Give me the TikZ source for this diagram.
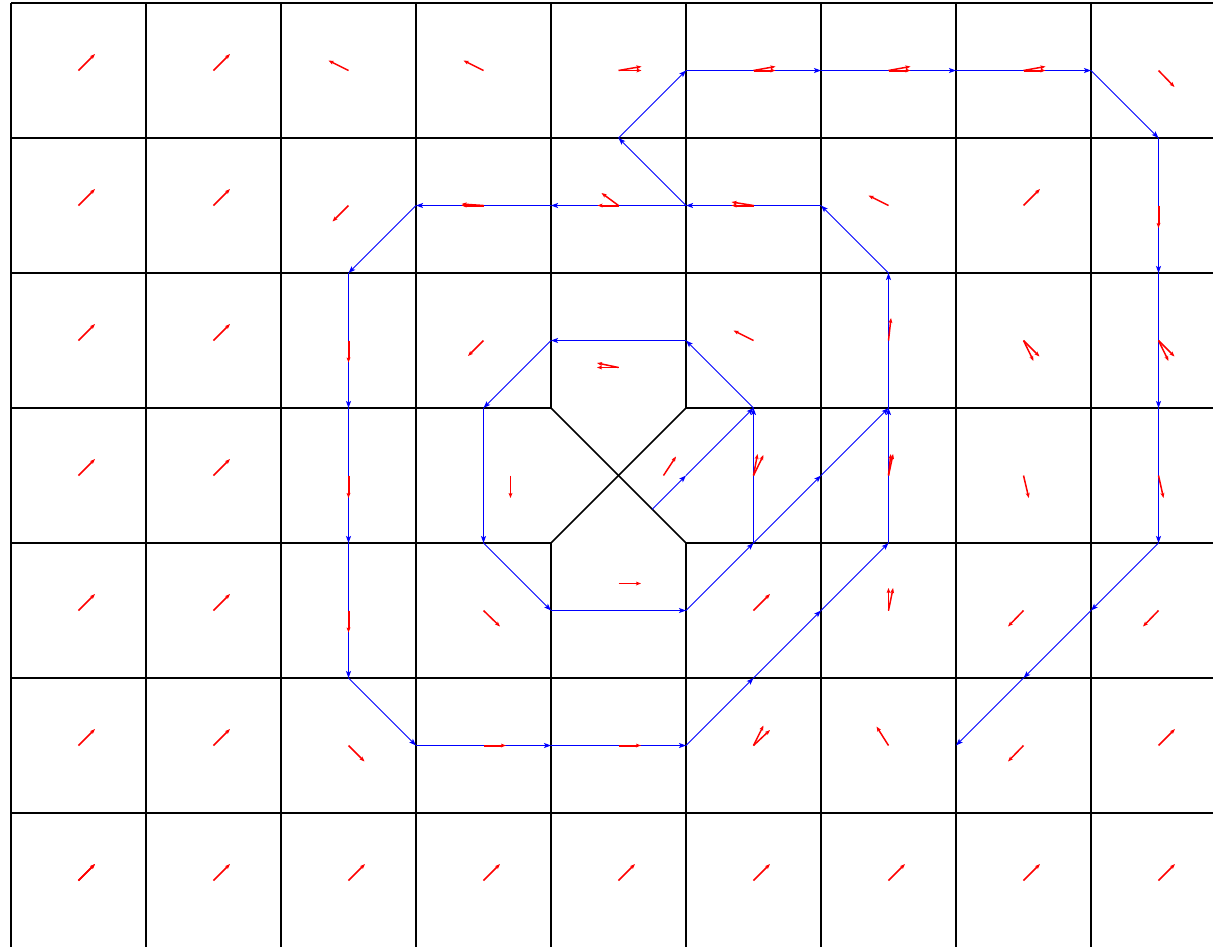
\documentclass[tikz,border=0pt]{standalone}
\usetikzlibrary{arrows.meta}
\begin{document}
\begin{tikzpicture}[x=1pt,y=-1pt,
  gridline/.style={black,line width=1.5pt},
  flow/.style={blue,line width=1pt,-{Stealth[length=7pt,width=5pt,inset=1.5pt]}},
  vec/.style={red,line width=1.5pt,-{Stealth[length=5pt,width=3.8pt,inset=1pt]}},
  onvec/.style={vec,line width=2pt}]
\useasboundingbox (0,0) rectangle (1213,946);
\clip (0,0) rectangle (1213,946);
% grid
\foreach \x in {11,146,281,416,821,956,1091} \draw[gridline] (\x,3) -- (\x,950);
\foreach \x in {551,686} {\draw[gridline] (\x,3) -- (\x,408); \draw[gridline] (\x,543) -- (\x,950);}
\foreach \y in {3,138,273,678,813} \draw[gridline] (11,\y) -- (1220,\y);
\foreach \y in {408,543} {\draw[gridline] (11,\y) -- (551,\y); \draw[gridline] (686,\y) -- (1220,\y);}
\draw[gridline] (551,408) -- (686,543);
\draw[gridline] (686,408) -- (551,543);
\draw[black,line width=2.2pt] (11,950) -- (11,813) -- (146,813) -- (146,950);
% trajectory vertices
\coordinate (S) at (652.25,509.25);
\coordinate (a1) at (686,475.5);
\coordinate (I1) at (753.5,408);
\coordinate (I2) at (686,340.5);
\coordinate (I3) at (551,340.5);
\coordinate (I4) at (483.5,408);
\coordinate (I5) at (483.5,543);
\coordinate (I6) at (551,610.5);
\coordinate (I7) at (686,610.5);
\coordinate (I8) at (753.5,543);
\coordinate (b1) at (821,475.5);
\coordinate (O0) at (888.5,543);
\coordinate (O1) at (888.5,408);
\coordinate (O2) at (888.5,273);
\coordinate (O3) at (821,205.5);
\coordinate (O4) at (686,205.5);
\coordinate (O5) at (551,205.5);
\coordinate (O6) at (416,205.5);
\coordinate (O7) at (348.5,273);
\coordinate (O8) at (348.5,408);
\coordinate (O9) at (348.5,543);
\coordinate (O10) at (348.5,678);
\coordinate (O11) at (416,745.5);
\coordinate (O12) at (551,745.5);
\coordinate (O13) at (686,745.5);
\coordinate (O14) at (753.5,678);
\coordinate (O15) at (821,610.5);
\coordinate (E1) at (618.5,138);
\coordinate (E2) at (686,70.5);
\coordinate (E3) at (821,70.5);
\coordinate (E4) at (956,70.5);
\coordinate (E5) at (1091,70.5);
\coordinate (E6) at (1158.5,138);
\coordinate (E7) at (1158.5,273);
\coordinate (E8) at (1158.5,408);
\coordinate (E9) at (1158.5,543);
\coordinate (E10) at (1091,610.5);
\coordinate (E11) at (1023.5,678);
\coordinate (E12) at (956,745.5);
% trajectory
\foreach \a/\b in {S/a1,a1/I1,I1/I2,I2/I3,I3/I4,I4/I5,I5/I6,I6/I7,I7/I8,I8/I1,I8/b1,b1/O1,
  O0/O1,O1/O2,O2/O3,O3/O4,O4/O5,O5/O6,O6/O7,O7/O8,O8/O9,O9/O10,O10/O11,O11/O12,O12/O13,O13/O14,O14/O15,O15/O0,
  O4/E1,E1/E2,E2/E3,E3/E4,E4/E5,E5/E6,E6/E7,E7/E8,E8/E9,E9/E10,E10/E11,E11/E12}
  \draw[flow] (\a) -- (\b);
% velocity vectors
\foreach \x/\y in {78.5/70.5,213.5/70.5,78.5/205.5,213.5/205.5,1023.5/205.5,
  78.5/340.5,213.5/340.5,78.5/475.5,213.5/475.5,78.5/610.5,213.5/610.5,753.5/610.5,
  78.5/745.5,213.5/745.5,1158.5/745.5,
  78.5/880.5,213.5/880.5,348.5/880.5,483.5/880.5,618.5/880.5,753.5/880.5,888.5/880.5,1023.5/880.5,1158.5/880.5}
  \draw[vec] (\x,\y) -- ++(16.5,-16.5);
\draw[vec] (78.5,880.5) -- ++(16.5,-16.5);
\foreach \x/\y/\dx/\dy in {
  348.5/70.5/-20/-10, 483.5/70.5/-20/-10,
  618.5/70.5/23/-4, 618.5/70.5/23/0,
  753.5/70.5/22/-4,
  888.5/70.5/22/-4,
  1023.5/70.5/22/-4,
  1158.5/70.5/16/16.5,
  348.5/205.5/-16/16,
  483.5/205.5/-22/-1.5,
  618.5/205.5/-17/-12.5,
  753.5/205.5/-22/-3.5,
  888.5/205.5/-20/-10,
  483.5/340.5/-15.5/15.5,
  618.5/367.5/-21.5/-4.5, 618.5/367.5/-21.5/0,
  753.5/340.5/-20/-10,
  888.5/340.5/2.5/-22.5,
  1023.5/340.5/16/16, 1023.5/340.5/10/20.5,
  1158.5/340.5/16/16, 1158.5/340.5/10/20.5,
  510.5/475.5/0/22.5,
  663.5/475.5/12.5/-19,
  753.5/475.5/4/-21.5, 753.5/475.5/10/-20.5,
  888.5/475.5/2.3/-21.5, 888.5/475.5/4.6/-21.5,
  1023.5/475.5/5.3/22.5,
  1158.5/475.5/5/22.5,
  483.5/610.5/16.5/16,
  618.5/583.5/22.5/0,
  888.5/610.5/0/-22.5, 888.5/610.5/4.6/-22.5,
  1023.5/610.5/-15.5/16,
  1158.5/610.5/-15.5/16,
  348.5/745.5/16/16,
  753.5/745.5/10/-20, 753.5/745.5/16.5/-15.5,
  888.5/745.5/-12/-19,
  1023.5/745.5/-15.5/16}
  \draw[vec] (\x,\y) -- ++(\dx,\dy);
% vectors lying on the trajectory
\foreach \x/\y/\dx/\dy in {
  753.5/70.5/22/0, 888.5/70.5/22/0, 1023.5/70.5/22/0,
  483.5/205.5/-22/0, 618.5/205.5/-21/0, 753.5/205.5/-22/0,
  1158.5/205.5/0/22.5,
  348.5/340.5/0/22,
  348.5/475.5/0/22.5,
  348.5/610.5/0/22,
  483.5/745.5/22.5/0,
  618.5/745.5/22.5/0}
  \draw[onvec] (\x,\y) -- ++(\dx,\dy);
\end{tikzpicture}
\end{document}
